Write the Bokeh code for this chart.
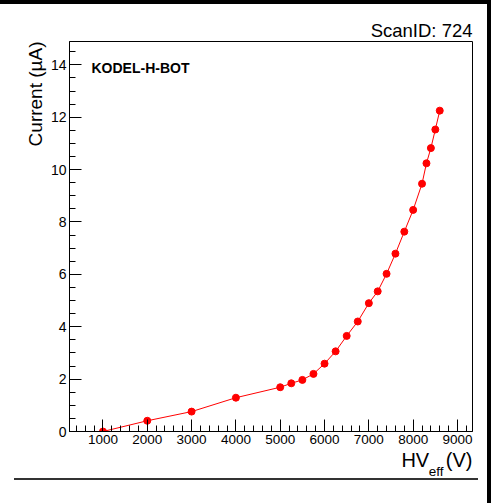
from bokeh.plotting import figure
from bokeh.models import Label, SingleIntervalTicker, Range1d, Title, Div, Spacer
from bokeh.layouts import column, row
from bokeh.embed import file_html
from bokeh.resources import INLINE

# Data
hv_eff = [1000, 2000, 3000, 4000, 5000, 5250, 5500, 5750, 6000, 6250, 6500, 6750,
          7000, 7200, 7400, 7600, 7800, 8000, 8200, 8300, 8400, 8500, 8600]
current = [0.0, 0.41, 0.76, 1.29, 1.69, 1.84, 1.97, 2.20, 2.59, 3.06, 3.65, 4.20,
           4.90, 5.35, 6.02, 6.79, 7.63, 8.46, 9.46, 10.24, 10.82, 11.53, 12.25]
scan_label = "ScanID: 724"
chamber_label = "KODEL-H-BOT"
y_title = "Current (\u00b5A)"
x_title_main = "HV\u00a0\u00a0\u00a0(V)"
x_title_sub = "eff"

X0, X1 = 245, 9339
Y0, Y1 = 0, 14.89
FONT = "Liberation Sans"

ML, MR, MT, MB = 69, 15, 37, 47
FW, FH = 403, 390

p = figure(width=ML + FW + MR, height=MT + FH + MB,
           output_backend="svg", toolbar_location=None,
           x_range=Range1d(X0, X1), y_range=Range1d(Y0, Y1),
           min_border_left=ML, min_border_right=MR,
           min_border_top=MT, min_border_bottom=MB,
           frame_width=FW, frame_height=FH)
p.background_fill_color = "white"
p.border_fill_color = "white"
p.outline_line_color = "black"
p.outline_line_width = 1
p.grid.visible = False

for ax in (p.xaxis[0], p.yaxis[0]):
    ax.axis_line_color = "black"
    ax.major_tick_line_color = "black"
    ax.minor_tick_line_color = "black"
    ax.major_tick_in = 12
    ax.major_tick_out = 0
    ax.minor_tick_in = 6
    ax.minor_tick_out = 0
    ax.major_label_text_font = FONT
    ax.major_label_text_font_size = "13.5px"
    ax.major_label_text_color = "black"
    ax.major_label_standoff = 3

p.xaxis[0].ticker = SingleIntervalTicker(interval=1000, num_minor_ticks=5)
p.yaxis[0].ticker = SingleIntervalTicker(interval=2, num_minor_ticks=4)
p.yaxis[0].major_label_text_font_size = "14px"

p.line(hv_eff, current, line_color="#ff0000", line_width=1)
p.scatter(hv_eff, current, size=7, fill_color="#ff0000", line_color="#ff0000")

def fx(px):
    return X0 + (px - ML) / FW * (X1 - X0)

def fy(py):
    return Y0 + (4 + MT + FH - py) / FH * (Y1 - Y0)

p.add_layout(Label(x=fx(91), y=fy(67.5), text=chamber_label, text_align="left",
                   text_baseline="alphabetic", text_font=FONT, text_font_style="bold",
                   text_font_size="14px", text_color="black"))

p.add_layout(Title(text=scan_label, align="right", standoff=1,
                   text_font=FONT, text_font_style="normal",
                   text_font_size="18.5px", text_color="black"), "above")
p.add_layout(Title(text=y_title, align="right", standoff=4,
                   text_font=FONT, text_font_style="normal",
                   text_font_size="19px", text_color="black"), "left")
p.add_layout(Title(text=x_title_main, align="right", standoff=0,
                   text_font=FONT, text_font_style="normal",
                   text_font_size="20px", text_color="black"), "below")
p.add_layout(Title(text=x_title_sub, align="right", standoff=-17, offset=29,
                   text_font=FONT, text_font_style="normal",
                   text_font_size="13.5px", text_color="black"), "below")

top_bar = Div(width=491, height=4, margin=0, styles={"background-color": "black"})
right_bar = Div(width=4, height=499, margin=0, styles={"background-color": "black"})
rule = Div(width=464, height=2, margin=0, styles={"background-color": "#333333"})
rule_row = row(Spacer(width=14, height=2, margin=0), rule, margin=0)
bottom_space = Spacer(width=487, height=20, margin=0)

layout = column(top_bar, row(column(p, rule_row, bottom_space, margin=0), right_bar, margin=0),
                margin=0)

open("out.html", "w").write(file_html(layout, INLINE))
